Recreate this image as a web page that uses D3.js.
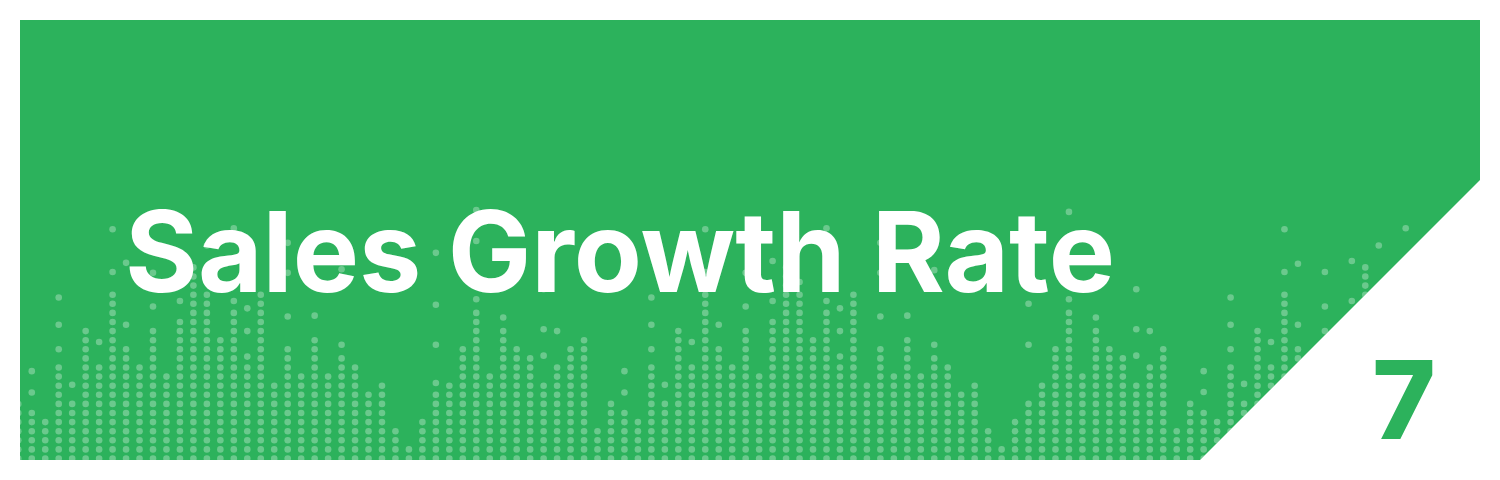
<!DOCTYPE html>
<html>
<head>
<meta charset="utf-8">
<script src="https://d3js.org/d3.v7.min.js"></script>
<style>
  body { margin: 0; background: #fff; }
</style>
</head>
<body>
<svg class="target" width="1500" height="480"></svg>
<script>

// title + badge number
title = 'Sales Growth Rate'
badge = '7'

// how many dots are stacked from the bottom in each column (104 columns)
stacks = [
  7, 6, 5, 11, 7, 15, 11, 19, 13, 11, 15, 10, 16, 22, 19, 14, 17, 11, 19, 9, 13, 10,
  14, 10, 12, 11, 8, 9, 4, 2, 5, 8, 9, 13, 17, 10, 15, 13, 12, 9, 11, 13, 14, 4,
  7, 6, 5, 11, 7, 15, 11, 19, 13, 11, 15, 10, 16, 22, 19, 14, 17, 11, 19, 9, 13, 10,
  14, 10, 12, 11, 8, 9, 4, 2, 5, 7, 9, 13, 17, 10, 15, 13, 12, 9, 11, 13, 4,
  7, 6, 5, 11, 7, 15, 11, 19, 13, 11, 15, 10, 16, 22, 19, 14, 17
]

// loose dots floating above each stack (in row units)
peaks = [
  [], [7.25, 9.6], [], [12, 14.7, 17.7], [8.1], [], [12.8], [20.5, 25.2], [14.7, 21.5], [], [16.7, 20.4],
  [], [17.3, 21.7], [], [19.4, 23.4], [], [17.3, 25.3], [11.2, 14, 16.5], [], [], [15.6, 20.4, 23.7], [],
  [15.7], [], [12.5, 20.8], [], [], [], [], [], [], [8.3, 12.5, 16.9, 22.6], [], [], [17.5, 23.9, 27.3],
  [], [15.5], [], [], [11.3, 14.2, 18.6], [14], [], [], [],
  [], [7.25, 9.6], [], [12, 14.7, 17.7], [8.1], [], [12.8], [20.5, 25.2], [14.7, 21.5], [], [16.7, 20.4],
  [], [17.3, 21.7], [], [19.4, 23.4], [], [17.3, 25.3], [11.2, 14, 16.5], [], [], [15.6, 20.4, 23.7], [],
  [15.7], [], [12.5, 20.7], [], [], [], [], [], [], [12.5, 17], [], [], [17.5, 23.9, 27.1],
  [], [15.5], [], [], [11.3, 14.2, 18.6], [14], [], [],
  [], [7.3, 9.6], [], [12, 14.7, 17.7], [8.2], [], [12.8], [20.5, 25.2], [14.7, 21.4], [], [16.7, 20.5],
  [], [17.3, 21.7], [], [23.4], [], [17.3, 25.3]
]

green = '#2cb25c'

const svg = d3.select('.target')

// banner shape: rectangle with the bottom-right corner cut on a diagonal
banner = [[20, 20], [1480, 20], [1480, 180], [1200, 460], [20, 460]]

svg.append('clipPath')
    .attr('id', 'banner-clip')
  .append('polygon')
    .attr('points', banner.map(p => p.join(',')).join(' '))

svg.append('polygon')
    .attr('points', banner.map(p => p.join(',')).join(' '))
    .attr('fill', green)

// scales: column index -> x, row number -> y
x = d3.scaleLinear().domain([0, stacks.length - 1]).range([18.3, 1405.7])
y = d3.scaleLinear().domain([0, 28]).range([458.5, 203.7])

// flatten into a list of dots
dots = []
stacks.forEach((n, i) => {
  for (let r = 0; r < n; r++) dots.push({ col: i, row: r })
  peaks[i].forEach(r => dots.push({ col: i, row: r }))
})

svg.append('g')
    .attr('clip-path', 'url(#banner-clip)')
  .selectAll('circle')
  .data(dots)
  .join('circle')
    .attr('cx', d => x(d.col))
    .attr('cy', d => y(d.row))
    .attr('r', 3.3)
    .attr('fill', '#fff')
    .attr('fill-opacity', 0.3)

svg.append('text')
    .attr('x', 125)
    .attr('y', 292)
    .attr('fill', '#fff')
    .style('font-family', 'Inter, "Noto Sans", sans-serif')
    .style('font-weight', 700)
    .style('font-size', '112px')
    .attr('textLength', 990)
    .attr('lengthAdjust', 'spacingAndGlyphs')
    .text(title)

svg.append('text')
    .attr('x', 1404)
    .attr('y', 439)
    .attr('text-anchor', 'middle')
    .attr('fill', green)
    .style('font-family', 'Inter, "Noto Sans", sans-serif')
    .style('font-weight', 800)
    .style('font-size', '108px')
    .text(badge)

</script>
</body>
</html>
